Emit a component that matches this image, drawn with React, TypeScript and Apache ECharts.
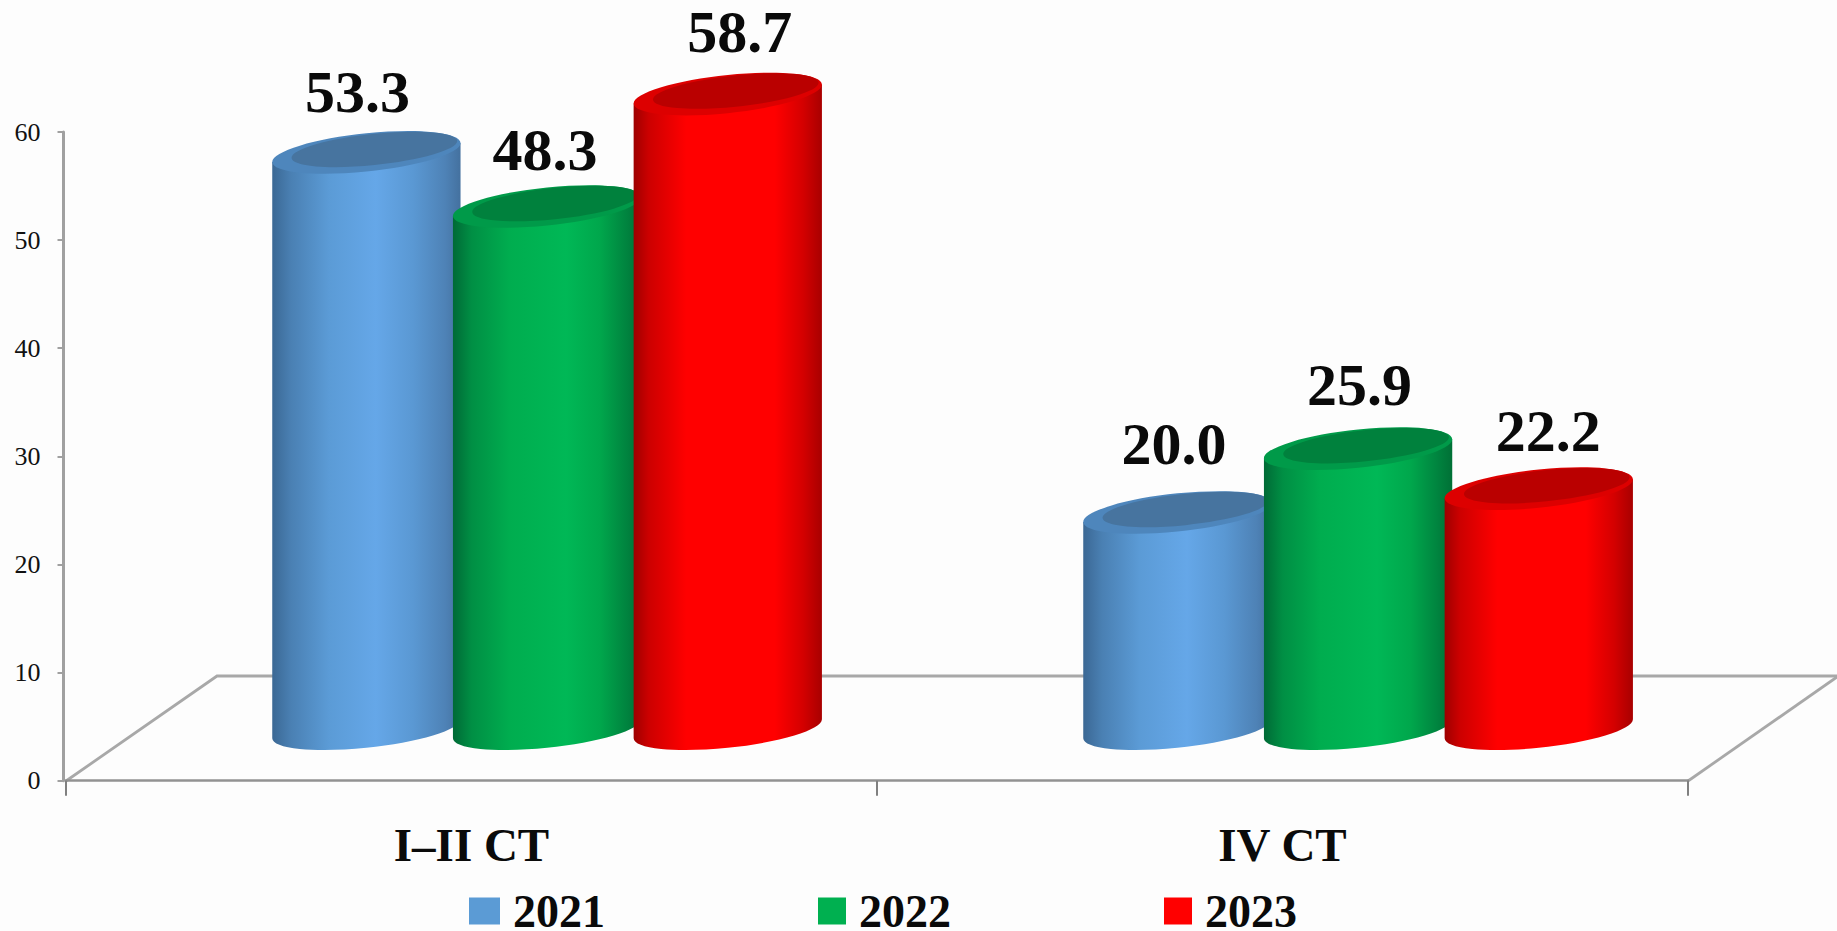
import React, { useEffect, useRef } from "react";
import * as echarts from "echarts";

const categories = ["I–II CT", "IV CT"];
const seriesNames = ["2021", "2022", "2023"];
const values2021 = [53.3, 20.0];
const values2022 = [48.3, 25.9];
const values2023 = [58.7, 22.2];
const yTicks = { min: 0, max: 60, interval: 10 };

const seriesValues = [values2021, values2022, values2023];
const swatchColors = ["#5B9BD5", "#00B050", "#FF0000"];

// Hand-placed value labels: offset [dx, dy] from the cap centre of each cylinder.
const labelShift = [
  [[-9, -60], [-3.5, -68]],
  [[-2, -56], [1.5, -63.5]],
  [[12, -62], [9.5, -58]],
];

const bodyStops = [
  [[0, "#3B6894"], [0.1, "#4A80B3"], [0.3, "#5B9BD6"], [0.55, "#65A7E8"], [0.75, "#5A98D3"], [0.92, "#4E82B6"], [1, "#44719F"]],
  [[0, "#006A36"], [0.1, "#008F44"], [0.3, "#00AD4F"], [0.6, "#00B856"], [0.78, "#00A74C"], [0.92, "#00843F"], [1, "#007036"]],
  [[0, "#9E0000"], [0.08, "#CC0000"], [0.28, "#FF0000"], [0.75, "#FF0000"], [0.9, "#D40000"], [1, "#A80000"]],
];
const capRim = ["#4E86BC", "#009A49", "#DD0000"];
const capInner = ["#47749F", "#00813D", "#BA0000"];

const PHI = (6 * Math.PI) / 180;
const FONT = '"Liberation Serif", "Times New Roman", serif';

function tangentAngle(a: number, b: number) {
  return Math.atan2(b * Math.sin(PHI), a * Math.cos(PHI));
}

function ptOn(cx: number, cy: number, a: number, b: number, t: number) {
  return [
    cx + a * Math.cos(t) * Math.cos(PHI) + b * Math.sin(t) * Math.sin(PHI),
    cy - a * Math.cos(t) * Math.sin(PHI) + b * Math.sin(t) * Math.cos(PHI),
  ];
}

function derivOn(a: number, b: number, t: number) {
  return [
    -a * Math.sin(t) * Math.cos(PHI) + b * Math.cos(t) * Math.sin(PHI),
    a * Math.sin(t) * Math.sin(PHI) + b * Math.cos(t) * Math.cos(PHI),
  ];
}

// Cubic Bezier commands along the tilted ellipse from angle t1 to t2.
function arcCmds(cx: number, cy: number, a: number, b: number, t1: number, t2: number) {
  const n = Math.ceil(Math.abs(t2 - t1) / (Math.PI / 4));
  const d = (t2 - t1) / n;
  const k = (4 / 3) * Math.tan(d / 4);
  let out = "";
  for (let i = 0; i < n; i++) {
    const s = t1 + i * d;
    const e = s + d;
    const p0 = ptOn(cx, cy, a, b, s);
    const p1 = ptOn(cx, cy, a, b, e);
    const d0 = derivOn(a, b, s);
    const d1 = derivOn(a, b, e);
    out += ` C${p0[0] + k * d0[0]} ${p0[1] + k * d0[1]} ${p1[0] - k * d1[0]} ${p1[1] - k * d1[1]} ${p1[0]} ${p1[1]}`;
  }
  return out;
}

function ellipsePath(cx: number, cy: number, a: number, b: number) {
  const t0 = tangentAngle(a, b);
  const p = ptOn(cx, cy, a, b, t0);
  return `M${p[0]} ${p[1]}` + arcCmds(cx, cy, a, b, t0, t0 + 2 * Math.PI) + " Z";
}

function makeRenderItem(si: number) {
  return (params: any, api: any) => {
    const cat = api.value(0);
    const val = api.value(1);
    const band = api.size([1, 0])[0];
    const zero = api.coord([cat, 0]);
    const top = api.coord([cat, val]);
    const spacing = band * 0.2228;
    const a = band * 0.1167;
    const b = 19;
    const cx = zero[0] + band * 0.0932 + (si - 1) * spacing;
    const baseY = zero[1] - 52;
    const capY = baseY - (zero[1] - top[1]);
    const t0 = tangentAngle(a, b);
    const tl = ptOn(cx, capY, a, b, t0 + Math.PI);
    const bl = ptOn(cx, baseY, a, b, t0 + Math.PI);
    const tr = ptOn(cx, capY, a, b, t0);
    const body =
      `M${tl[0]} ${tl[1]} L${bl[0]} ${bl[1]}` +
      arcCmds(cx, baseY, a, b, t0 + Math.PI, t0) +
      ` L${tr[0]} ${tr[1]} Z`;
    const [sx, sy] = labelShift[si][cat];
    return {
      type: "group",
      children: [
        {
          type: "path",
          shape: { pathData: body },
          style: { fill: new echarts.graphic.LinearGradient(0, 0, 1, 0, bodyStops[si].map(([offset, color]) => ({ offset, color }))) },
        },
        {
          type: "path",
          shape: { pathData: ellipsePath(cx, capY, a, b) },
          style: { fill: capRim[si] },
        },
        {
          type: "path",
          shape: { pathData: ellipsePath(cx + 8, capY - 3, a * 0.88, b * 0.82) },
          style: { fill: capInner[si] },
        },
        {
          type: "text",
          style: {
            text: Number(val).toFixed(1),
            x: cx + sx,
            y: capY + sy,
            align: "center",
            verticalAlign: "middle",
            font: `bold 60px ${FONT}`,
            fill: "#0a0a0a",
          },
        },
      ],
    };
  };
}

const legendSpots = [
  { left: 469, width: 31 },
  { left: 818, width: 28 },
  { left: 1164, width: 28 },
];

export default function App() {
  const ref = useRef<HTMLDivElement>(null);
  useEffect(() => {
    const chart = echarts.init(ref.current!, null, { renderer: "svg" });
    chart.setOption({
      animation: false,
      backgroundColor: "#FDFDFD",
      grid: { left: 66, top: 132, width: 1622, height: 648.7 },
      xAxis: {
        type: "category",
        data: categories,
        axisLine: { lineStyle: { color: "#929292", width: 2.5 } },
        axisTick: { show: true, length: 15, lineStyle: { color: "#808080", width: 2 } },
        axisLabel: {
          fontFamily: FONT,
          fontWeight: "bold",
          fontSize: 47,
          color: "#0a0a0a",
          margin: 41,
        },
      },
      yAxis: {
        type: "value",
        ...yTicks,
        offset: 2.5,
        splitLine: { show: false },
        axisLine: { show: true, lineStyle: { color: "#A0A0A0", width: 3 } },
        axisTick: { show: true, length: 6, lineStyle: { color: "#A0A0A0", width: 2 } },
        axisLabel: { fontFamily: FONT, fontSize: 26, color: "#111", margin: 23 },
      },
      legend: seriesNames.map((name, i) => ({
        data: [name],
        left: legendSpots[i].left,
        top: 888,
        icon: "rect",
        itemWidth: legendSpots[i].width,
        itemHeight: 27,
        selectedMode: false,
        padding: 0,
        textStyle: {
          fontFamily: FONT,
          fontWeight: "bold",
          fontSize: 46,
          color: "#0a0a0a",
          padding: [0, 0, 0, 8],
        },
      })),
      graphic: [
        {
          type: "polyline",
          z: -1,
          shape: { points: [[66, 781], [217, 676], [1837, 676]] },
          style: { stroke: "#A8A8A8", lineWidth: 2.8, fill: "none" },
        },
        {
          type: "line",
          z: -1,
          shape: { x1: 1688, y1: 781, x2: 1837, y2: 677 },
          style: { stroke: "#A8A8A8", lineWidth: 2.8 },
        },
      ],
      series: seriesNames.map((name, si) => ({
        type: "custom",
        name,
        itemStyle: { color: swatchColors[si] },
        encode: { x: 0, y: 1 },
        data: seriesValues[si].map((v, i) => [i, v]),
        renderItem: makeRenderItem(si),
      })),
    });
    return () => chart.dispose();
  }, []);
  return (
    <div
      ref={ref}
      style={{ position: "fixed", left: 0, top: 0, width: 1837, height: 931 }}
    />
  );
}
